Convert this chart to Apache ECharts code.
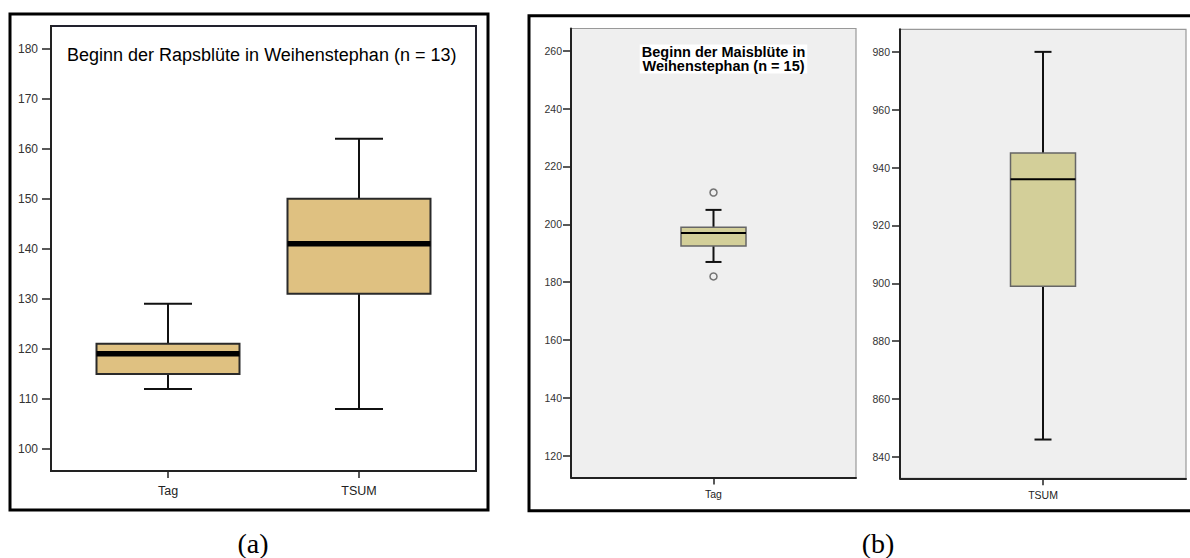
<!DOCTYPE html>
<html>
<head>
<meta charset="utf-8">
<script src="https://cdn.jsdelivr.net/npm/echarts@6/dist/echarts.min.js"></script>
<style>
html,body{margin:0;padding:0;background:#fff;}
#chart{width:1190px;height:558px;}
</style>
</head>
<body>
<div id="chart"></div>
<script>
// ---- data ----
const categoriesA = ['Tag', 'TSUM'];
// [min, Q1, median, Q3, max]
const tagA = [112, 115, 119, 121, 129];
const tsumA = [108, 131, 141, 150, 162];
const categoriesB = ['Tag', 'TSUM'];
const tagB = [187, 192.5, 197, 199, 205];
const tagBOutliers = [211, 182];
const tsumB = [846, 899, 936, 945, 980];
const ticksA = [100, 110, 120, 130, 140, 150, 160, 170, 180];
const ticksB1 = [120, 140, 160, 180, 200, 220, 240, 260];
const ticksB2 = [840, 860, 880, 900, 920, 940, 960, 980];
const titleA = 'Beginn der Rapsblüte in Weihenstephan (n = 13)';
const titleB = 'Beginn der Maisblüte in\nWeihenstephan (n = 15)';

const chart = echarts.init(document.getElementById('chart'), null, {renderer: 'svg'});

function boxRender(opt) {
  return function (params, api) {
    const x = api.value(0);
    const pMin = api.coord([x, api.value(1)]);
    const pQ1 = api.coord([x, api.value(2)]);
    const pMed = api.coord([x, api.value(3)]);
    const pQ3 = api.coord([x, api.value(4)]);
    const pMax = api.coord([x, api.value(5)]);
    const cx = pMin[0];
    const wl = {stroke: '#111', lineWidth: opt.whiskerWidth};
    return {
      type: 'group',
      children: [
        {type: 'line', shape: {x1: cx, y1: pQ3[1], x2: cx, y2: pMax[1]}, style: wl},
        {type: 'line', shape: {x1: cx, y1: pQ1[1], x2: cx, y2: pMin[1]}, style: wl},
        {type: 'line', shape: {x1: cx - opt.capHalf, y1: pMax[1], x2: cx + opt.capHalf, y2: pMax[1]}, style: wl},
        {type: 'line', shape: {x1: cx - opt.capHalf, y1: pMin[1], x2: cx + opt.capHalf, y2: pMin[1]}, style: wl},
        {type: 'rect', shape: {x: cx - opt.boxHalf, y: pQ3[1], width: opt.boxHalf * 2, height: pQ1[1] - pQ3[1]},
          style: {fill: opt.fill, stroke: opt.stroke, lineWidth: opt.boxLine}},
        {type: 'line', shape: {x1: cx - opt.boxHalf, y1: pMed[1], x2: cx + opt.boxHalf, y2: pMed[1]},
          style: {stroke: '#000', lineWidth: opt.medianWidth}}
      ]
    };
  };
}

const fontA = 'Liberation Sans, Arial, sans-serif';

function yAxisCfg(gridIndex, min, max, ticks, fontSize, margin, tickLen) {
  return {
    type: 'value', gridIndex: gridIndex, min: min, max: max,
    axisLine: {show: true, onZero: false, lineStyle: {color: '#222', width: 2}},
    axisTick: {show: true, inside: false, length: tickLen, customValues: ticks, lineStyle: {color: '#222', width: 1.5}},
    axisLabel: {customValues: ticks, color: '#333', fontSize: fontSize, fontFamily: fontA, margin: margin},
    splitLine: {show: false}
  };
}
function xAxisCfg(gridIndex, min, max, positions, names, fontSize, margin) {
  return {
    type: 'value', gridIndex: gridIndex, min: min, max: max,
    axisLine: {show: true, onZero: false, lineStyle: {color: '#222', width: 2}},
    axisTick: {show: true, inside: false, length: 7, customValues: positions, lineStyle: {color: '#222', width: 1.5}},
    axisLabel: {customValues: positions, color: '#222', fontSize: fontSize, fontFamily: fontA, margin: margin,
      formatter: function (v) { const i = positions.indexOf(Math.round(v)); return i >= 0 ? names[i] : ''; }},
    splitLine: {show: false}
  };
}

const posA = categoriesA.map((c, i) => i + 1);

const option = {
  animation: false,
  backgroundColor: '#fff',
  grid: [
    {left: 51, top: 26, width: 425, height: 445, show: true, backgroundColor: '#fff', borderColor: '#22222e', borderWidth: 2},
    {left: 571, top: 28.5, width: 285, height: 449, show: true, backgroundColor: '#efefef', borderColor: '#999', borderWidth: 1.2},
    {left: 900, top: 29.3, width: 286, height: 449, show: true, backgroundColor: '#efefef', borderColor: '#999', borderWidth: 1.2}
  ],
  xAxis: [
    xAxisCfg(0, 0.3874, 2.6126, posA, categoriesA, 12.5, 13),
    xAxisCfg(1, -1, 1, [0], [categoriesB[0]], 10.5, 11),
    xAxisCfg(2, -1, 1, [0], [categoriesB[1]], 10.5, 11)
  ],
  yAxis: [
    yAxisCfg(0, 95.6, 184.5, ticksA, 12, 13, 9),
    yAxisCfg(1, 112.5, 267.7, ticksB1, 10.5, 9, 8),
    yAxisCfg(2, 832.6, 987.8, ticksB2, 10.5, 10, 8)
  ],
  series: [
    {
      type: 'custom', xAxisIndex: 0, yAxisIndex: 0,
      renderItem: boxRender({boxHalf: 71.5, capHalf: 24, fill: '#dfc181', stroke: '#2a2a2a', boxLine: 2, medianWidth: 5.5, whiskerWidth: 2}),
      data: [[posA[0]].concat(tagA), [posA[1]].concat(tsumA)]
    },
    {
      type: 'custom', xAxisIndex: 1, yAxisIndex: 1,
      renderItem: boxRender({boxHalf: 32.5, capHalf: 8, fill: '#d3cf99', stroke: '#666', boxLine: 1.5, medianWidth: 2, whiskerWidth: 2}),
      data: [[0].concat(tagB)]
    },
    {
      type: 'scatter', xAxisIndex: 1, yAxisIndex: 1,
      symbol: 'circle', symbolSize: 7,
      itemStyle: {color: '#efefef', borderColor: '#555', borderWidth: 1.5},
      data: tagBOutliers.map(v => [0, v])
    },
    {
      type: 'custom', xAxisIndex: 2, yAxisIndex: 2,
      renderItem: boxRender({boxHalf: 32.5, capHalf: 8.5, fill: '#d3cf99', stroke: '#666', boxLine: 1.5, medianWidth: 2, whiskerWidth: 2}),
      data: [[0].concat(tsumB)]
    }
  ],
  graphic: [
    {type: 'rect', shape: {x: 10, y: 14, width: 478, height: 496}, style: {fill: 'none', stroke: '#000', lineWidth: 3}, z: 100},
    {type: 'rect', shape: {x: 529, y: 15.7, width: 700, height: 495}, style: {fill: 'none', stroke: '#000', lineWidth: 3}, z: 100},
    {type: 'text', x: 67, y: 55, z: 100,
      style: {text: titleA, font: '18px Liberation Sans, Arial, sans-serif', fill: '#000', align: 'left', verticalAlign: 'middle'}},
    {type: 'text', x: 723.5, y: 59, z: 100,
      style: {text: titleB, font: 'bold 14.5px Liberation Sans, Arial, sans-serif', fill: '#000', align: 'center', verticalAlign: 'middle',
        lineHeight: 14, backgroundColor: '#fff', padding: [1, 2, 0, 2]}},
    {type: 'text', x: 253, y: 543, z: 100,
      style: {text: '(a)', font: '28px Liberation Serif, Times New Roman, serif', fill: '#000', align: 'center', verticalAlign: 'middle'}},
    {type: 'text', x: 878, y: 543, z: 100,
      style: {text: '(b)', font: '28px Liberation Serif, Times New Roman, serif', fill: '#000', align: 'center', verticalAlign: 'middle'}}
  ]
};
chart.setOption(option);
</script>
</body>
</html>
